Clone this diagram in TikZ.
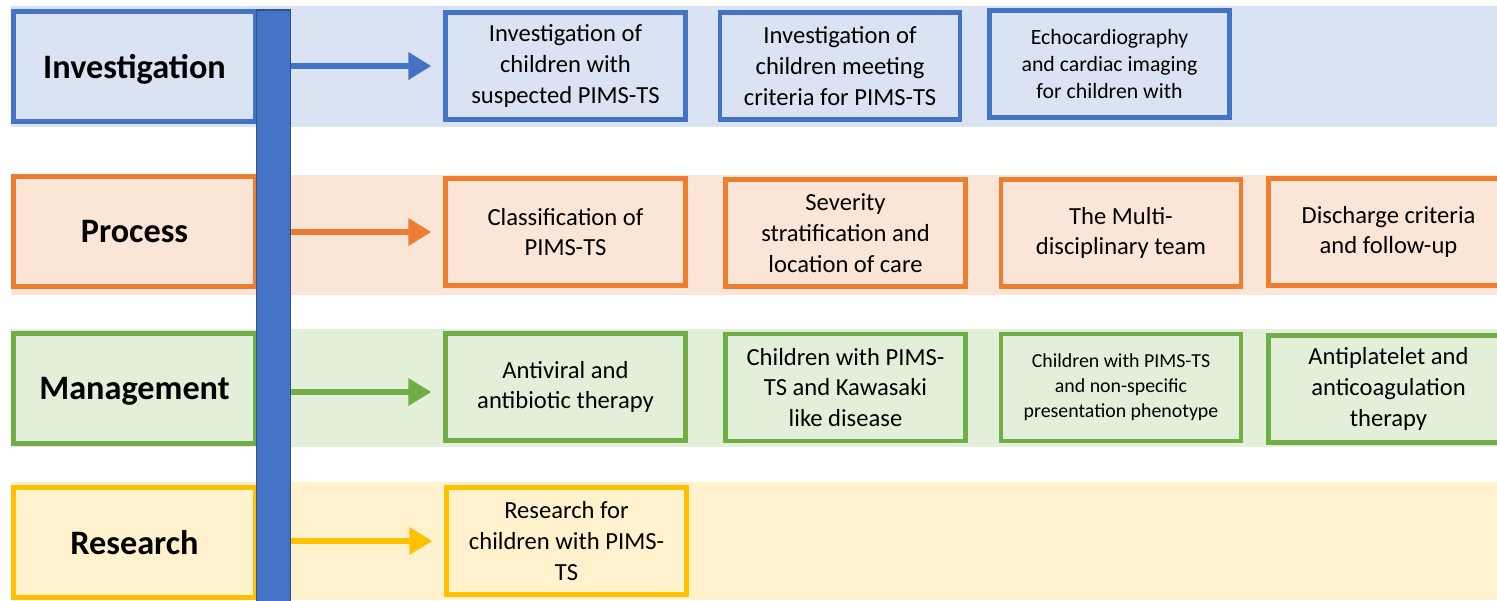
\documentclass[tikz,border=0pt]{standalone}
\usepackage{fontspec}
\setmainfont{Carlito}
\usetikzlibrary{arrows.meta}

\definecolor{invblue}{HTML}{4472C4}
\definecolor{invband}{HTML}{DAE3F3}
\definecolor{proorange}{HTML}{ED7D31}
\definecolor{proband}{HTML}{FBE5D6}
\definecolor{mangreen}{HTML}{70AD47}
\definecolor{manband}{HTML}{E2F0D9}
\definecolor{resyellow}{HTML}{FFC000}
\definecolor{resband}{HTML}{FFF2CC}
\definecolor{spineedge}{HTML}{2F528F}

\tikzset{
    tag/.style = {draw, line width = 2.6pt, inner sep = 0pt,
                  minimum width = 4.84cm, minimum height = 2.2cm,
                  text depth = 0pt,
                  font = \fontsize{19.5}{23}\selectfont\bfseries},
    item/.style = {draw, line width = 2.6pt, inner sep = 0pt,
                   minimum width = 4.8cm, minimum height = 2.14cm,
                   align = center, font = \fontsize{14}{17.5}\selectfont},
    arr/.style = {line width = 3pt, shorten >= 0.24cm,
                  -{Triangle[length = 13pt, width = 15pt]}},
    spinebar/.style = {draw = spineedge, fill = invblue, line width = 0.9pt,
                       inner sep = 0pt, minimum width = 0.68cm,
                       minimum height = 12cm}
}

\begin{document}
\begin{tikzpicture}[x = 0.02cm, y = -0.02cm]
    \useasboundingbox (0, 0) rectangle (1497, 600);
    \clip (0, 0) rectangle (1497, 600);

    % rows
    \fill [invband] (11, 6) rectangle (1497, 127);
    \fill [proband] (11, 175) rectangle (1497, 295);
    \fill [manband] (11, 329) rectangle (1497, 447);
    \fill [resband] (11, 482) rectangle (1497, 600);

    \node [tag, draw = invblue, fill = invband] (invtag)
          at (134.5, 66.5) {Investigation};
    \node [tag, draw = proorange, fill = proband] (protag)
          at (134.5, 231.5) {Process};
    \node [tag, draw = mangreen, fill = manband] (mantag)
          at (134.5, 388.5) {Management};
    \node [tag, draw = resyellow, fill = resband] (restag)
          at (134.5, 542.5) {Research};

    % investigation
    \node [item, draw = invblue] (inv1) at (565.5, 66)
          {Investigation of\\children with\\suspected PIMS-TS};
    \node [item, draw = invblue] (inv2) at (840, 66)
          {Investigation of\\children meeting\\criteria for PIMS-TS};
    \node [item, draw = invblue, font = \fontsize{12.4}{15.3}\selectfont]
          (inv3) at (1109.5, 64)
          {Echocardiography\\and cardiac imaging\\for children with};

    % process
    \node [item, draw = proorange] (pro1) at (565.5, 232)
          {Classification of\\PIMS-TS};
    \node [item, draw = proorange] (pro2) at (845.5, 233)
          {Severity\\stratification and\\location of care};
    \node [item, draw = proorange] (pro3) at (1121, 233)
          {The Multi-\\disciplinary team};
    \node [item, draw = proorange] (pro4) at (1388.5, 232)
          {Discharge criteria\\and follow-up};

    % management
    \node [item, draw = mangreen] (man1) at (565.5, 387)
          {Antiviral and\\antibiotic therapy};
    \node [item, draw = mangreen] (man2) at (845.5, 387.5)
          {Children with PIMS-\\TS and Kawasaki\\like disease};
    \node [item, draw = mangreen, font = \fontsize{11.3}{14.2}\selectfont]
          (man3) at (1121, 387.5)
          {Children with PIMS-TS\\and non-specific\\presentation phenotype};
    \node [item, draw = mangreen] (man4) at (1388.5, 389)
          {Antiplatelet and\\anticoagulation\\therapy};

    % research
    \node [item, draw = resyellow] (res1) at (566.5, 541)
          {Research for\\children with PIMS-\\TS};

    \node [spinebar] (spine) at (273.5, 310) {};

    \draw [arr, invblue] (spine.east |- inv1.west) -- (inv1.west);
    \draw [arr, proorange] (spine.east |- pro1.west) -- (pro1.west);
    \draw [arr, mangreen] ([yshift = -0.1cm] spine.east |- man1.west)
          -- ([yshift = -0.1cm] man1.west);
    \draw [arr, resyellow] (spine.east |- res1.west) -- (res1.west);
\end{tikzpicture}
\end{document}
